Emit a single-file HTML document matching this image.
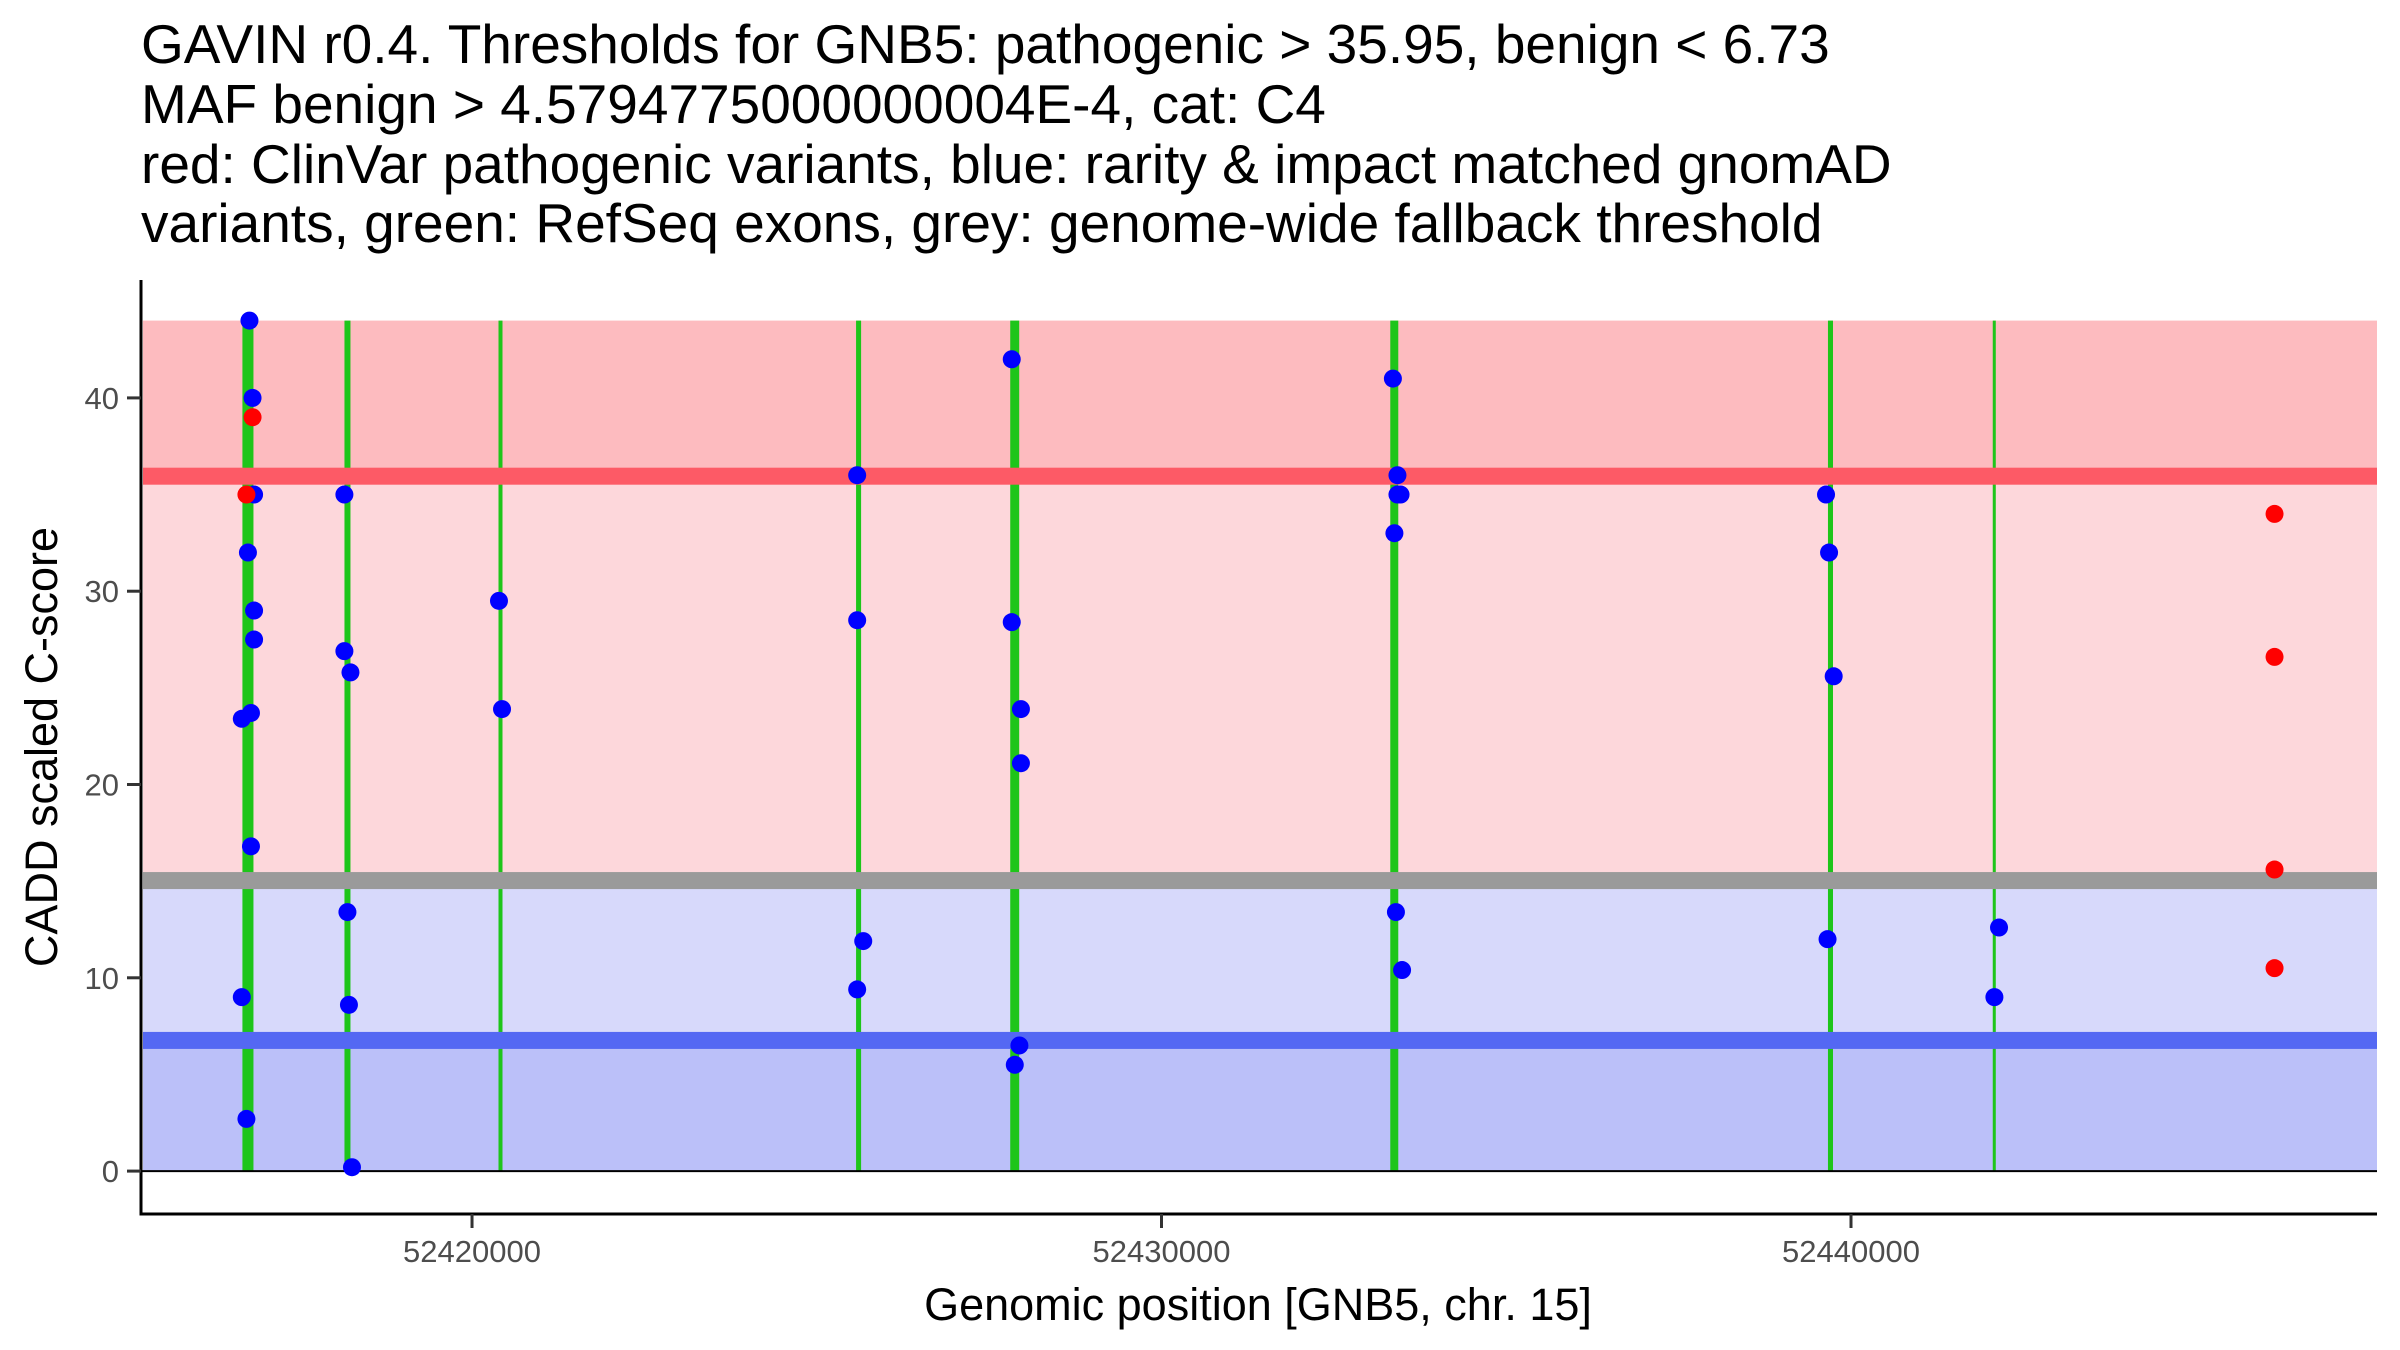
<!DOCTYPE html>
<html><head><meta charset="utf-8"><style>
html,body{margin:0;padding:0;background:#fff;}
svg{display:block;font-family:"Liberation Sans",sans-serif;}
</style></head><body>
<svg id="chart" width="2400" height="1350" viewBox="0 0 2400 1350" xmlns="http://www.w3.org/2000/svg">
<g font-size="55" fill="#000">
<text x="141" y="63">GAVIN r0.4. Thresholds for GNB5: pathogenic &gt; 35.95, benign &lt; 6.73</text>
<text x="141" y="123">MAF benign &gt; 4.5794775000000004E-4, cat: C4</text>
<text x="141" y="183">red: ClinVar pathogenic variants, blue: rarity &amp; impact matched gnomAD</text>
<text x="141" y="242">variants, green: RefSeq exons, grey: genome-wide fallback threshold</text>
</g>
<g id="bands"></g><g id="exons"></g><g id="hlines"></g><g id="points"></g><g id="axes"></g>
<text x="1258" y="1320" font-size="45" text-anchor="middle">Genomic position [GNB5, chr. 15]</text>
<text transform="translate(57,747) rotate(-90)" font-size="45" text-anchor="middle">CADD scaled C-score</text>
</svg>
<script>
const pathogenicThreshold = 35.95;
const benignThreshold = 6.76;
const fallbackThreshold = 15.03;
const bandTop = 44.0;
const exonStarts = [52416670, 52418150, 52420384, 52425570, 52427806, 52433318, 52439666, 52442056];
const exonEnds   = [52416830, 52418237, 52420442, 52425643, 52427936, 52433434, 52439739, 52442100];
const blueX = [52416772,52416817,52416839,52416750,52416839,52416839,52416661,52416794,52416794,52416661,52416728,
 52418149,52418149,52418237,52418193,52418215,52418259,
 52420391,52420435,
 52425586,52425586,52425674,52425586,
 52427828,52427828,52427961,52427961,52427939,52427872,
 52433356,52433422,52433422,52433467,52433378,52433400,52433489,
 52439638,52439682,52439749,52439660,
 52442147,52442080];
const blueY = [44.0,40.0,35.0,32.0,29.0,27.5,23.4,23.7,16.8,9.0,2.7,
 35.0,26.9,25.8,13.4,8.6,0.2,
 29.5,23.9,
 36.0,28.5,11.9,9.4,
 42.0,28.4,23.9,21.1,6.5,5.5,
 41.0,36.0,35.0,35.0,33.0,13.4,10.4,
 35.0,32.0,25.6,12.0,
 12.6,9.0];
const redX = [52416817,52416728,52446143,52446143,52446143,52446143];
const redY = [39.0,35.0,34.0,26.6,15.6,10.5];
const xTicks = [52420000, 52430000, 52440000];
const xTickLabels = ["52420000","52430000","52440000"];
const yTicks = [0,10,20,30,40];
const yTickLabels = ["0","10","20","30","40"];

const X0=141, X1=2377, Y0=1214, Y1=280;
const xMin=52415199, xMax=52447629, yMin=-2.22, yMax=46.1;
const sx = v => X0 + (v-xMin)/(xMax-xMin)*(X1-X0);
const sy = v => Y0 - (v-yMin)/(yMax-yMin)*(Y0-Y1);
const NS="http://www.w3.org/2000/svg";
function mk(tag, parent, attrs){const e=document.createElementNS(NS,tag);for(const k in attrs)e.setAttribute(k,attrs[k]);document.getElementById(parent).appendChild(e);return e;}

const bands=[[pathogenicThreshold,bandTop,'#fdbbbf','band-pathogenic'],[fallbackThreshold,pathogenicThreshold,'#fdd7db','band-vus-high'],[benignThreshold,fallbackThreshold,'#d7d9fb','band-vus-low'],[0,benignThreshold,'#bbc0f9','band-benign']];
bands.forEach(b=>{
  const r=mk('rect','bands',{x:X0+2,y:sy(b[1]),width:X1-X0-2,height:sy(b[0])-sy(b[1]),fill:b[2]});
  
  
});
exonStarts.forEach((s,i)=>{
  const x=sx(s), w=Math.max(3,sx(exonEnds[i])-x);
  const r=mk('rect','exons',{x:x,y:sy(bandTop),width:w,height:sy(0)-sy(bandTop),fill:'#1ec51a'});
  
  
});
const hl=[[pathogenicThreshold,'#fd5a66','pathogenic-threshold-line'],[fallbackThreshold,'#9a9a9a','fallback-threshold-line'],[benignThreshold,'#5468f3','benign-threshold-line']];
hl.forEach(h=>{
  const r=mk('rect','hlines',{x:X0+2,y:sy(h[0])-8.5,width:X1-X0-2,height:17,fill:h[1]});
  
  
});
const zl=mk('line','hlines',{x1:X0,x2:X1,y1:sy(0),y2:sy(0),stroke:'#000','stroke-width':2});


blueX.forEach((x,i)=>{
  const c=mk('circle','points',{cx:sx(x),cy:sy(blueY[i]),r:9,fill:'#0000ff'});
  
  
});
redX.forEach((x,i)=>{
  const c=mk('circle','points',{cx:sx(x),cy:sy(redY[i]),r:9,fill:'#ff0000'});
  
  
});
const ax=mk('line','axes',{x1:X0,x2:X0,y1:Y1,y2:Y0+1.5,stroke:'#000','stroke-width':3});


const bx=mk('line','axes',{x1:X0-1.5,x2:X1,y1:Y0,y2:Y0,stroke:'#000','stroke-width':3});


yTicks.forEach((t,i)=>{
  const tk=mk('line','axes',{x1:X0-14,x2:X0,y1:sy(t),y2:sy(t),stroke:'#333','stroke-width':3});
  
  
  const tl=mk('text','axes',{x:X0-22,y:sy(t)+11,'font-size':31,fill:'#4d4d4d','text-anchor':'end'});
  tl.textContent=yTickLabels[i];
  
  
});
xTicks.forEach((t,i)=>{
  const tk=mk('line','axes',{x1:sx(t),x2:sx(t),y1:Y0,y2:Y0+14,stroke:'#333','stroke-width':3});
  
  
  const tl=mk('text','axes',{x:sx(t),y:Y0+48,'font-size':31,fill:'#4d4d4d','text-anchor':'middle'});
  tl.textContent=xTickLabels[i];
  
  
});
</script>
</body></html>
